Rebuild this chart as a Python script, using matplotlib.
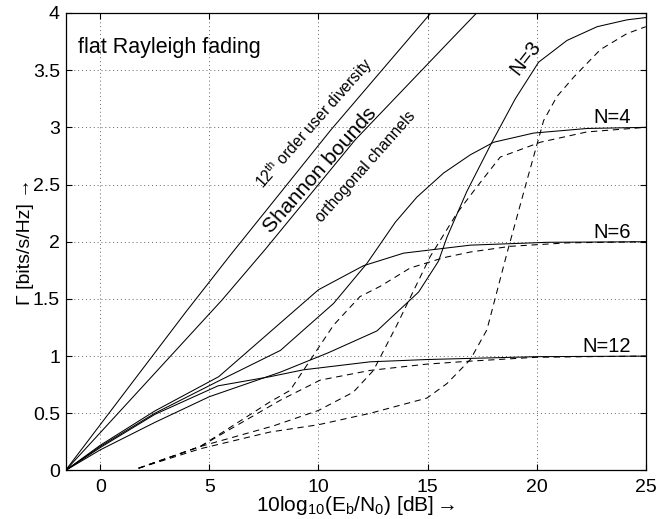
import numpy as np
import matplotlib.pyplot as plt

plt.rcParams['font.family'] = ['Liberation Sans', 'DejaVu Sans']
plt.rcParams['mathtext.fontset'] = 'custom'
plt.rcParams['mathtext.rm'] = 'Liberation Sans'
plt.rcParams['mathtext.it'] = 'Liberation Sans:italic'
plt.rcParams['mathtext.bf'] = 'Liberation Sans:bold'
plt.rcParams['mathtext.default'] = 'regular'

# Shannon bounds
ebn0_div12 = [-1.59, 0.0, 3.9, 5.95, 10.58, 15.15]
cap_div12 = [0.0, 0.40, 1.38, 1.88, 2.98, 4.0]
ebn0_orth = [-1.59, 0.0, 5.58, 7.57, 11.68, 16.04, 17.25]
cap_orth = [0.0, 0.33, 1.49, 1.935, 2.89, 3.76, 4.0]

# solid curves
ebn0_n3 = [-1.59, 0.0, 2.5, 5.0, 8.26, 10.46, 12.68, 14.59, 15.5, 15.89, 16.8,
           17.95, 19.02, 20.09, 21.39, 22.77, 24.14, 25.0]
cap_n3 = [0.0, 0.18, 0.42, 0.645, 0.86, 1.03, 1.22, 1.56, 1.83, 2.04, 2.44,
          2.87, 3.25, 3.57, 3.76, 3.88, 3.94, 3.96]
ebn0_n4 = [-1.59, 0.0, 2.5, 5.4, 8.26, 10.69, 12.22, 13.52, 14.51, 15.73,
           16.96, 18.03, 19.86, 22.3, 25.0]
cap_n4 = [0.0, 0.21, 0.5, 0.78, 1.05, 1.46, 1.81, 2.17, 2.39, 2.60,
          2.76, 2.87, 2.95, 2.99, 3.0]
ebn0_n6 = [-1.59, 0.0, 2.5, 5.43, 10.0, 12.06, 13.9, 16.96, 20.5, 25.0]
cap_n6 = [0.0, 0.22, 0.52, 0.82, 1.58, 1.79, 1.90, 1.97, 1.995, 2.0]
ebn0_n12 = [-1.59, 0.0, 2.5, 5.4, 7.78, 9.31, 12.37, 14.97, 16.96, 20.0, 25.0]
cap_n12 = [0.0, 0.2, 0.49, 0.74, 0.82, 0.88, 0.95, 0.97, 0.98, 0.995, 1.0]

# dashed curves
ebn0_n3d = [1.76, 4.59, 7.78, 10.0, 12.37, 14.97, 15.89, 16.96, 17.72, 18.64,
            19.56, 20.32, 20.93, 21.7, 22.92, 24.14, 25.0]
cap_n3d = [0.02, 0.19, 0.336, 0.40, 0.50, 0.633, 0.76, 0.97, 1.23, 1.90,
           2.54, 3.06, 3.27, 3.44, 3.68, 3.82, 3.88]
ebn0_n4d = [1.76, 4.59, 7.94, 10.0, 11.6, 12.52, 13.59, 15.12, 16.35, 17.26,
            18.33, 20.17, 22.3, 25.0]
cap_n4d = [0.02, 0.21, 0.39, 0.525, 0.685, 0.875, 1.27, 1.87, 2.25, 2.48,
           2.74, 2.87, 2.96, 3.0]
ebn0_n6d = [1.76, 4.59, 7.78, 8.7, 9.31, 10.69, 11.9, 12.83, 14.2, 15.73,
            16.96, 18.8, 21.4, 25.0]
cap_n6d = [0.02, 0.21, 0.60, 0.70, 0.875, 1.27, 1.52, 1.61, 1.77, 1.86,
           1.91, 1.96, 1.99, 2.0]
ebn0_n12d = [1.76, 4.59, 8.26, 10.08, 12.37, 14.97, 16.96, 20.0, 25.0]
cap_n12d = [0.02, 0.21, 0.615, 0.79, 0.875, 0.93, 0.956, 0.99, 1.0]

fig = plt.figure(figsize=(6.72, 5.19), dpi=100)
ax = fig.add_axes([0.0975, 0.0935, 0.8635, 0.8815])

lw = 0.75
for xs, ys in [(ebn0_div12, cap_div12), (ebn0_orth, cap_orth),
               (ebn0_n3, cap_n3), (ebn0_n4, cap_n4),
               (ebn0_n6, cap_n6), (ebn0_n12, cap_n12)]:
    ax.plot(xs, ys, color='black', lw=lw)
for xs, ys in [(ebn0_n3d, cap_n3d), (ebn0_n4d, cap_n4d),
               (ebn0_n6d, cap_n6d), (ebn0_n12d, cap_n12d)]:
    ax.plot(xs, ys, color='black', lw=lw, dashes=(6, 4.5))

ax.set_xlim(-1.59, 25)
ax.set_ylim(0, 4)
ax.set_xticks([0, 5, 10, 15, 20, 25])
ax.set_yticks(np.arange(0, 4.01, 0.5))
ax.set_yticklabels(['0', '0.5', '1', '1.5', '2', '2.5', '3', '3.5', '4'])
ax.grid(True, color='0.4', linestyle=(0, (1, 3)), lw=0.7)
ax.tick_params(direction='in', top=True, right=True, length=4, width=0.8,
               labelsize=14)
ax.tick_params(axis='x', pad=6)
ax.tick_params(axis='y', pad=4)
for s in ax.spines.values():
    s.set_linewidth(0.9)

ax.set_xlabel(r'10log$_{10}$(E$_b$/N$_0$) [dB]$\rightarrow$', fontsize=15)
ax.xaxis.set_label_coords(0.5, -0.052)
ax.set_ylabel('\u0393 [bits/s/Hz] \u2192', fontsize=14)
ax.yaxis.set_label_coords(-0.054, 0.5)

ax.text(-1.02, 3.65, 'flat Rayleigh fading', fontsize=15.5, va='baseline')
ax.text(9.81, 3.04, r'12$^{th}$ order user diversity', fontsize=11.3,
        rotation=48.5, rotation_mode='anchor', ha='center', va='center')
ax.text(10.08, 2.627, 'Shannon bounds', fontsize=15.3,
        rotation=48.5, rotation_mode='anchor', ha='center', va='center')
ax.text(12.15, 2.656, 'orthogonal channels', fontsize=11.3,
        rotation=48.5, rotation_mode='anchor', ha='center', va='center')
ax.text(19.48, 3.605, 'N=3', fontsize=14.5, rotation=52,
        rotation_mode='anchor', ha='center', va='center')
ax.text(24.3, 3.035, 'N=4', fontsize=14.5, ha='right', va='baseline')
ax.text(24.3, 2.03, 'N=6', fontsize=14.5, ha='right', va='baseline')
ax.text(24.3, 1.04, 'N=12', fontsize=14.5, ha='right', va='baseline')

fig.savefig('out.png', dpi=100)
